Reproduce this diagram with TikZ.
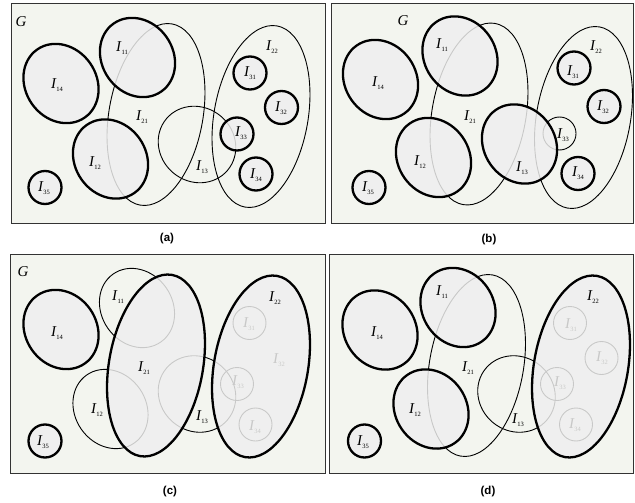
\documentclass[tikz,border=0pt]{standalone}
\usepackage{fontspec}
\setmainfont{Liberation Serif}
\newfontfamily\capfont{Liberation Sans}
\definecolor{bgc}{HTML}{F3F5EF}
\definecolor{fillc}{HTML}{EFEFEF}
\newcommand\Lab[1]{{\fontsize{15}{15}\selectfont\itshape I}\kern0.3pt\raisebox{-2.5pt}{\fontsize{6.5}{6.5}\selectfont #1}}
\newcommand\SmallEll[3]{\draw[#1,shift={(#2)},rotate=-55] (0,0) ellipse [x radius=41.5,y radius=35.5];}
\newcommand\BigEll[3]{\draw[#1,shift={(#2)},rotate=-10] (0,0) ellipse [x radius=47,y radius=92];}
\newcommand\RoundEll[3]{\draw[#1,shift={(#2)},rotate=-40] (0,0) ellipse [x radius=40,y radius=37];}
\tikzset{
  frm/.style={draw=black!80, fill=bgc, line width=1pt},
  thk/.style={draw=black, line width=2.3pt, fill=fillc, fill opacity=0.84},
  thn/.style={draw=black, line width=0.9pt},
  lbl/.style={inner sep=0pt, text=black},
  captxt/.style={inner sep=0pt, font=\capfont\bfseries\fontsize{11.5}{11.5}\selectfont},
  gee/.style={inner sep=0pt, font=\itshape\fontsize{15}{15}\selectfont},
}
\begin{document}
\begin{tikzpicture}[x=1pt,y=-1pt]
\useasboundingbox (0,0) rectangle (635,503);
% ---------------- panel (a)
\draw[frm] (11,4) rectangle (325.5,223);
\node[gee] (aG) at (21,22) {G};
\BigEll{thn}{156,114.5}{}
\BigEll{thn}{261,116.5}{}
\RoundEll{thn}{197,144.5}{}
\SmallEll{thk}{137.5,57.5}{}
\SmallEll{thk}{110.5,159}{}
\SmallEll{thk}{61,83.5}{}
\draw[thk] (250,73) circle [radius=16.5];
\draw[thk] (281.5,107.5) circle [radius=16.5];
\draw[thk] (237,134) circle [radius=16.5];
\draw[thk] (256,174) circle [radius=16.5];
\draw[thk] (45,187.5) circle [radius=16.5];
\node[lbl] (a14) at (57,85) {\Lab{14}};
\node[lbl] (a11) at (122,48) {\Lab{11}};
\node[lbl] (a12) at (95,163) {\Lab{12}};
\node[lbl] (a21) at (142,117) {\Lab{21}};
\node[lbl] (a13) at (202,167) {\Lab{13}};
\node[lbl] (a22) at (272,47) {\Lab{22}};
\node[lbl] (a31) at (250,73) {\Lab{31}};
\node[lbl] (a32) at (281,108) {\Lab{32}};
\node[lbl] (a33) at (241,133) {\Lab{33}};
\node[lbl] (a34) at (256,175) {\Lab{34}};
\node[lbl] (a35) at (44,188) {\Lab{35}};
\node[captxt] (capa) at (167,239) {(a)};
% ---------------- panel (b)
\draw[frm] (331,4) rectangle (633.5,223);
\node[gee] (bG) at (403,21) {G};
\BigEll{thn}{479,114}{}
\BigEll{thn}{583.5,117.5}{}
\draw[thn] (559.5,133.5) circle [radius=16.5];
\SmallEll{thk}{460,56}{}
\SmallEll{thk}{433.5,157.5}{}
\SmallEll{thk}{519.5,144}{}
\SmallEll{thk}{380.5,79.5}{}
\draw[thk] (574,68) circle [radius=16.5];
\draw[thk] (604,106.5) circle [radius=16.5];
\draw[thk] (578,173.5) circle [radius=16.5];
\draw[thk] (369,187.5) circle [radius=16.5];
\node[lbl] (b14) at (378,83) {\Lab{14}};
\node[lbl] (b11) at (442,45) {\Lab{11}};
\node[lbl] (b12) at (420,162) {\Lab{12}};
\node[lbl] (b21) at (470,117) {\Lab{21}};
\node[lbl] (b13) at (522,168) {\Lab{13}};
\node[lbl] (b22) at (596,47) {\Lab{22}};
\node[lbl] (b31) at (573,72) {\Lab{31}};
\node[lbl] (b32) at (603,107) {\Lab{32}};
\node[lbl] (b33) at (563,135) {\Lab{33}};
\node[lbl] (b34) at (578,173) {\Lab{34}};
\node[lbl] (b35) at (368,188) {\Lab{35}};
\node[captxt] (capb) at (489,240) {(b)};
% ---------------- panel (c)
\draw[frm] (10,254) rectangle (325.5,473);
\node[gee] (cG) at (23,272) {G};
\SmallEll{thn}{137,308}{}
\SmallEll{thn}{110.5,409}{}
\RoundEll{thn}{197,394}{}
\draw[thn] (249.5,323) circle [radius=16.5];
\draw[thn] (237,384) circle [radius=16.5];
\draw[thn] (255.5,424.5) circle [radius=16.5];
\node[lbl] (c31) at (249,324) {\Lab{31}};
\node[lbl] (c32) at (279,360) {\Lab{32}};
\node[lbl] (c33) at (238,382) {\Lab{33}};
\node[lbl] (c34) at (255,427) {\Lab{34}};
\BigEll{thk}{156,365.5}{}
\BigEll{thk}{261,366.5}{}
\SmallEll{thk}{61,329.5}{}
\draw[thk] (45,441) circle [radius=16.5];
\node[lbl] (c14) at (57,333) {\Lab{14}};
\node[lbl] (c11) at (118,297) {\Lab{11}};
\node[lbl] (c12) at (97,410) {\Lab{12}};
\node[lbl] (c21) at (144,368) {\Lab{21}};
\node[lbl] (c13) at (202,417) {\Lab{13}};
\node[lbl] (c22) at (275,298) {\Lab{22}};
\node[lbl] (c35) at (43,442) {\Lab{35}};
\node[captxt] (capc) at (170,492) {(c)};
% ---------------- panel (d)
\draw[frm] (329,254) rectangle (633.5,473);
\BigEll{thn}{476.5,365.5}{}
\RoundEll{thn}{516.5,394}{}
\draw[thn] (570,323) circle [radius=16.5];
\draw[thn] (601.5,358) circle [radius=16.5];
\draw[thn] (557,384) circle [radius=16.5];
\draw[thn] (576,424.5) circle [radius=16.5];
\node[lbl] (d31) at (571,325) {\Lab{31}};
\node[lbl] (d32) at (602,358) {\Lab{32}};
\node[lbl] (d33) at (560,383) {\Lab{33}};
\node[lbl] (d34) at (575,425) {\Lab{34}};
\SmallEll{thk}{458,307.5}{}
\SmallEll{thk}{431,409}{}
\SmallEll{thk}{380,330}{}
\BigEll{thk}{581,366.5}{}
\draw[thk] (364.5,441) circle [radius=16.5];
\node[lbl] (d14) at (377,333) {\Lab{14}};
\node[lbl] (d11) at (442,292) {\Lab{11}};
\node[lbl] (d12) at (415,410) {\Lab{12}};
\node[lbl] (d21) at (468,368) {\Lab{21}};
\node[lbl] (d13) at (518,420) {\Lab{13}};
\node[lbl] (d22) at (593,297) {\Lab{22}};
\node[lbl] (d35) at (363,442) {\Lab{35}};
\node[captxt] (capd) at (488,492) {(d)};
\end{tikzpicture}
\end{document}
